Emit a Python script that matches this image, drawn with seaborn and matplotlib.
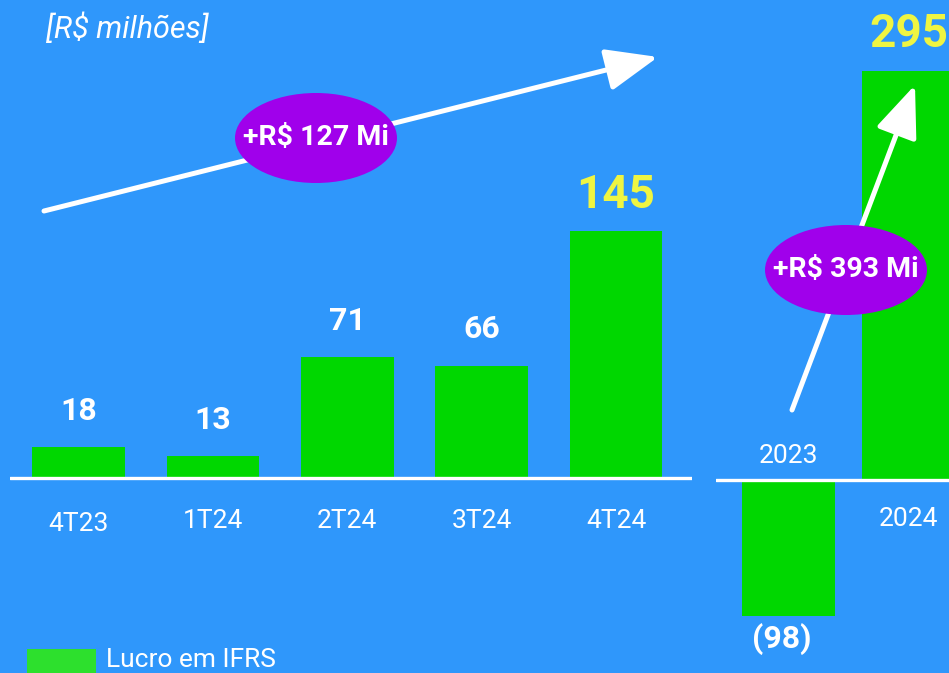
import matplotlib
matplotlib.use("Agg")
import matplotlib.pyplot as plt
import matplotlib.patches as mpatches
import seaborn as sns

# chart data
quarters = ["4T23", "1T24", "2T24", "3T24", "4T24"]
quarter_profit = [18, 13, 71, 66, 145]
years = ["2023", "2024"]
year_profit = [-98, 295]
growth_labels = ["+R$ 127 Mi", "+R$ 393 Mi"]

BG = "#2F97FB"
GREEN = "#00D700"
PURPLE = "#A000EB"
YELLOW = "#EFF542"
W, H = 949, 673

sns.set_theme(style="white")
plt.rcParams["font.family"] = ["Roboto", "DejaVu Sans"]


def fx(px):
    return px / W


def fy(py):
    return 1 - py / H


fig = plt.figure(figsize=(W / 100, H / 100), dpi=100, facecolor=BG)

# quarterly panel
ax1 = fig.add_axes([fx(10), 0, 682 / W, 1])
s1 = 1.703
sns.barplot(x=quarters, y=quarter_profit, ax=ax1, color=GREEN, saturation=1,
            width=0.69, errorbar=None, edgecolor="none", linewidth=0)
ax1.set_xlim(-0.51, 4.565)
ax1.set_ylim(-(H - 478) / s1, 478 / s1)
ax1.axhline(0, color="white", lw=2.4)
for i, (q, v) in enumerate(zip(quarters, quarter_profit)):
    last = i == len(quarters) - 1
    ax1.annotate(str(v), xy=(i, v), xytext=(0, 26), textcoords="offset points",
                 ha="center", va="center", fontweight="bold",
                 fontsize=33 if last else 23, color=YELLOW if last else "white")
    ax1.annotate(q, xy=(i, 0), xytext=(0, -31 if i else -33), textcoords="offset points",
                 ha="center", va="center", fontsize=19, color="white")

# annual panel
ax2 = fig.add_axes([fx(716), 0, 233 / W, 1])
s2 = 1.385
sns.barplot(x=years, y=year_profit, ax=ax2, color=GREEN, saturation=1,
            width=0.775, errorbar=None, edgecolor="none", linewidth=0)
ax2.set_xlim(-0.604, 1.3375)
ax2.set_ylim(-(H - 480) / s2, 480 / s2)
ax2.axhline(0, color="white", lw=2.4)
ax2.annotate("(98)", xy=(0, year_profit[0]), xytext=(-5, -17), textcoords="offset points",
             ha="center", va="center", fontweight="bold", fontsize=23, color="white")
ax2.annotate("295", xy=(1, year_profit[1]), xytext=(0, 27), textcoords="offset points",
             ha="center", va="center", fontweight="bold", fontsize=33, color=YELLOW)
ax2.annotate(years[0], xy=(0, 0), xytext=(0, 17), textcoords="offset points",
             ha="center", va="center", fontsize=19, color="white")
ax2.annotate(years[1], xy=(1, 0), xytext=(0, -28), textcoords="offset points",
             ha="center", va="center", fontsize=19, color="white")

for ax in (ax1, ax2):
    ax.set_facecolor("none")
    ax.axis("off")

# growth arrows with purple badges
head = mpatches.ArrowStyle("-|>", head_length=1.6, head_width=0.65)
for (x0, y0, x1, y1) in [(44, 211, 658, 57), (792, 410, 915, 85)]:
    arr = mpatches.FancyArrowPatch((fx(x0), fy(y0)), (fx(x1), fy(y1)),
                                   transform=fig.transFigure, arrowstyle=head,
                                   mutation_scale=20, lw=3.6, color="white",
                                   shrinkA=0, shrinkB=0, zorder=3)
    fig.add_artist(arr)

for (cx, cy), lab in zip([(316, 138), (846, 270)], growth_labels):
    ell = mpatches.Ellipse((fx(cx), fy(cy)), 162 / W, 90 / H, transform=fig.transFigure,
                           facecolor=PURPLE, edgecolor="none", zorder=4)
    fig.add_artist(ell)
    fig.text(fx(cx), fy(cy), lab, ha="center", va="center", fontsize=20.5,
             fontweight="bold", color="white", zorder=5)

fig.text(fx(46), fy(28), "[R$ milhões]", ha="left", va="center", fontsize=22,
         style="italic", color="white")

# legend
fig.add_artist(mpatches.Rectangle((fx(27), fy(673)), 69 / W, 24 / H,
                                  transform=fig.transFigure, facecolor="#2DE02D",
                                  edgecolor="none"))
fig.text(fx(106), fy(660), "Lucro em IFRS", ha="left", va="center", fontsize=19,
         color="white")

fig.savefig("out.png", dpi=100, facecolor=BG)
